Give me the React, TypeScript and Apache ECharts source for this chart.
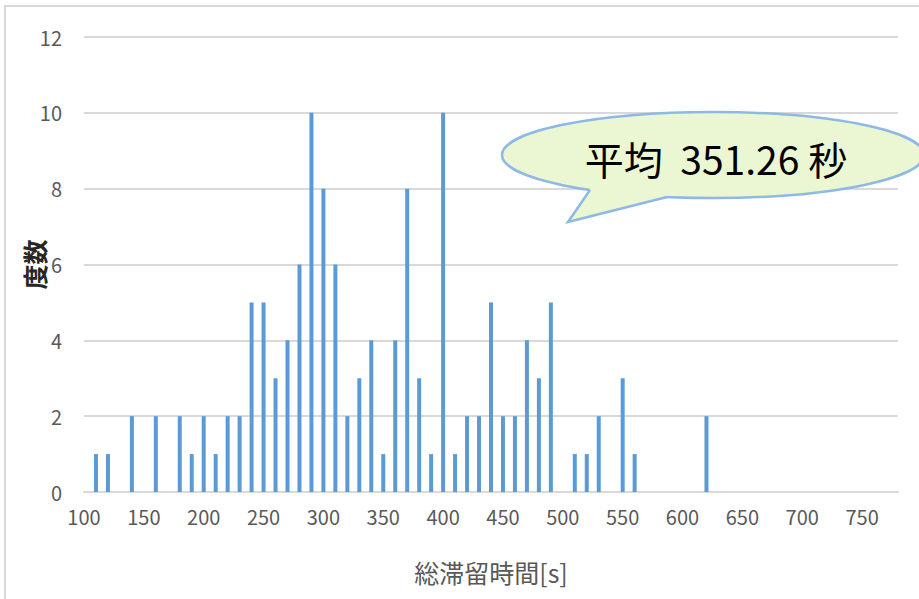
import React, { useEffect, useRef } from "react";
import * as echarts from "echarts";

const bins = [110, 120, 140, 160, 180, 190, 200, 210, 220, 230, 240, 250, 260, 270, 280, 290, 300, 310, 320, 330, 340, 350, 360, 370, 380, 390, 400, 410, 420, 430, 440, 450, 460, 470, 480, 490, 510, 520, 530, 550, 560, 620];
const counts = [1, 1, 2, 2, 2, 1, 2, 1, 2, 2, 5, 5, 3, 4, 6, 10, 8, 6, 2, 3, 4, 1, 4, 8, 3, 1, 10, 1, 2, 2, 5, 2, 2, 4, 3, 5, 1, 1, 2, 3, 1, 2];
const xAxisTitle = "総滞留時間[s]";
const yAxisTitle = "度数";
const calloutText = "平均  351.26 秒";

const FONT = "'Noto Sans CJK JP', 'Noto Sans', sans-serif";

export default function App() {
  const ref = useRef<HTMLDivElement>(null);
  useEffect(() => {
    if (!ref.current) return;
    const chart = echarts.init(ref.current, null, { renderer: "svg" });
    const data = bins.map((b, i) => [b, counts[i]]);
    chart.setOption({
      animation: false,
      backgroundColor: "#ffffff",
      textStyle: { fontFamily: FONT },
      grid: { left: 84, right: 21, top: 37, bottom: 107, containLabel: false, outerBoundsMode: "none" },
      xAxis: {
        type: "value",
        min: 100,
        max: 780,
        interval: 50,
        name: xAxisTitle,
        nameLocation: "middle",
        nameGap: 67,
        nameMoveOverlap: false,
        nameTextStyle: { fontSize: 25, color: "#595959", fontFamily: FONT },
        axisLine: { show: true, lineStyle: { color: "#D9D9D9", width: 2 } },
        axisTick: { show: false },
        splitLine: { show: false },
        axisLabel: {
          fontSize: 20,
          color: "#595959",
          margin: 14,
          fontFamily: FONT,
          showMaxLabel: false,
          formatter: (v: number) => (v % 50 === 0 ? String(v) : ""),
        },
      },
      yAxis: {
        type: "value",
        min: 0,
        max: 12,
        interval: 2,
        name: yAxisTitle,
        nameLocation: "middle",
        nameGap: 38,
        nameMoveOverlap: false,
        nameTextStyle: { fontSize: 25, color: "#262626", fontWeight: "bold", fontFamily: FONT },
        axisLine: { show: false },
        axisTick: { show: false },
        splitLine: { lineStyle: { color: "#D9D9D9", width: 2 } },
        axisLabel: { fontSize: 20, color: "#595959", margin: 22, fontFamily: FONT },
      },
      series: [
        {
          type: "bar",
          data,
          barWidth: 4,
          itemStyle: { color: "#5B9BD5" },
        },
      ],
      graphic: [
        {
          type: "rect",
          shape: { x: 5, y: 6, width: 940, height: 620 },
          style: { fill: "none", stroke: "#D9D9D9", lineWidth: 2 },
          z: 100,
        },
        {
          type: "ellipse",
          shape: { cx: 713, cy: 155, rx: 211, ry: 43 },
          style: { fill: "#EBF7D2", stroke: "#8EB8E5", lineWidth: 2.5 },
          z: 101,
        },
        {
          type: "polygon",
          shape: { points: [[590, 190], [568, 222], [667, 197], [667, 188], [590, 182]] },
          style: { fill: "#EBF7D2", stroke: "none" },
          z: 102,
        },
        {
          type: "polyline",
          shape: { points: [[590, 190], [568, 222], [667, 197]] },
          style: { fill: "none", stroke: "#8EB8E5", lineWidth: 2.5 },
          z: 103,
        },
        {
          type: "text",
          x: 716,
          y: 158,
          style: {
            text: calloutText,
            fontSize: 39,
            fontFamily: FONT,
            fill: "#000000",
            align: "center",
            verticalAlign: "middle",
          },
          z: 104,
        },
      ],
    });
    return () => chart.dispose();
  }, []);
  return (
    <div
      ref={ref}
      style={{ position: "fixed", left: 0, top: 0, width: 919, height: 599 }}
    />
  );
}
